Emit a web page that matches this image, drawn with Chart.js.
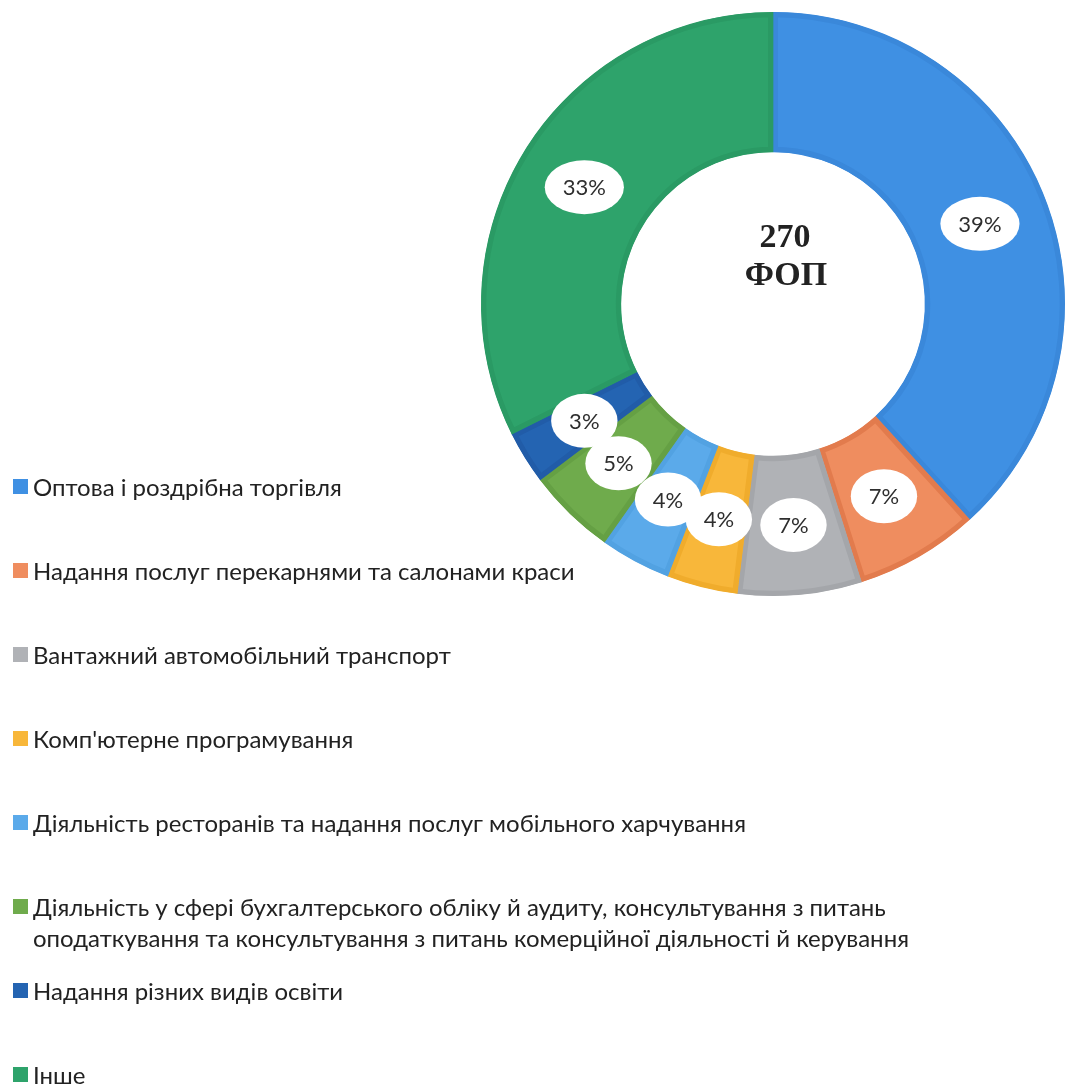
<!DOCTYPE html>
<html>
<head>
<meta charset="utf-8">
<script src="https://cdn.jsdelivr.net/npm/chart.js@4.4.1/dist/chart.umd.min.js"></script>
<style>
  html, body { margin: 0; padding: 0; background: #fff; }
  .wrap { position: relative; width: 1067px; height: 1084px; overflow: hidden; }
  #fopChart { position: absolute; left: 0; top: 0; }
  .legend { position: absolute; left: 0; top: 471px; font-family: Lato, "Noto Sans", sans-serif; font-size: 24px; color: #222; }
  .legend-item { position: relative; height: 84px; }
  .legend-item .box { position: absolute; left: 13px; top: 8px; width: 15px; height: 15px; }
  .legend-item .txt { position: absolute; left: 33px; top: 0; width: 960px; line-height: 31px; }
</style>
</head>
<body>
<div class="wrap">
  <canvas id="fopChart" width="1067" height="1084"></canvas>
  <div class="legend" id="legend"></div>
</div>
<script>
const categories = [
  'Оптова і роздрібна торгівля',
  'Надання послуг перекарнями та салонами краси',
  'Вантажний автомобільний транспорт',
  "Комп'ютерне програмування",
  'Діяльність ресторанів та надання послуг мобільного харчування',
  'Діяльність у сфері бухгалтерського обліку й аудиту, консультування з питань оподаткування та консультування з питань комерційної діяльності й керування',
  'Надання різних видів освіти',
  'Інше'
];
const shares = [39, 7, 7, 4, 4, 5, 3, 33];
const sliceColors = ['#3f90e3', '#ef8d5f', '#b0b2b6', '#f8b73a', '#5baaea', '#6fab4c', '#2464b2', '#2ea36b'];
const edgeColors = ['#3a88da', '#e27b4d', '#a4a6aa', '#f0ac2c', '#52a2e2', '#65a044', '#215ca8', '#2a9a64'];
const totalFop = 270;
const centerLines = [String(totalFop), 'ФОП'];

// white oval badges with the percentage + the total in the hole
const badgePlugin = {
  id: 'badges',
  afterDatasetsDraw(chart) {
    const ctx = chart.ctx;
    const meta = chart.getDatasetMeta(0);
    ctx.save();
    ctx.font = '22px Lato, "Noto Sans", sans-serif';
    ctx.textAlign = 'center';
    ctx.textBaseline = 'middle';
    meta.data.forEach((arc, i) => {
      const p = arc.tooltipPosition();
      const txt = shares[i] + '%';
      const tw = ctx.measureText(txt).width;
      ctx.beginPath();
      ctx.ellipse(p.x, p.y, tw / 2 + 18, 27, 0, 0, Math.PI * 2);
      ctx.fillStyle = '#ffffff';
      ctx.fill();
      ctx.fillStyle = '#2e2e2e';
      ctx.fillText(txt, p.x, p.y + 1);
    });
    const c = meta.data[0];
    ctx.font = 'bold 34px "Liberation Serif", "DejaVu Serif", serif';
    ctx.fillStyle = '#222222';
    ctx.fillText(centerLines[0], c.x + 12, c.y - 66);
    ctx.fillText(centerLines[1], c.x + 13, c.y - 28);
    ctx.restore();
  }
};

const chart = new Chart(document.getElementById('fopChart'), {
  type: 'doughnut',
  data: {
    labels: categories,
    datasets: [{
      data: shares,
      backgroundColor: sliceColors,
      borderColor: edgeColors,
      borderWidth: 5,
      borderAlign: 'inner'
    }]
  },
  options: {
    responsive: false,
    animation: false,
    cutout: '52%',
    layout: { padding: { left: 481, right: 2, top: 12, bottom: 488 } },
    plugins: {
      legend: { display: false },
      tooltip: { enabled: false }
    }
  },
  plugins: [badgePlugin]
});

// legend on the left, built from the chart's own legend items
const legendEl = document.getElementById('legend');
chart.options.plugins.legend.labels.generateLabels(chart).forEach(item => {
  const row = document.createElement('div');
  row.className = 'legend-item';
  const box = document.createElement('span');
  box.className = 'box';
  box.style.background = sliceColors[item.index];
  const txt = document.createElement('span');
  txt.className = 'txt';
  txt.textContent = item.text;
  row.appendChild(box);
  row.appendChild(txt);
  legendEl.appendChild(row);
});
</script>
</body>
</html>
